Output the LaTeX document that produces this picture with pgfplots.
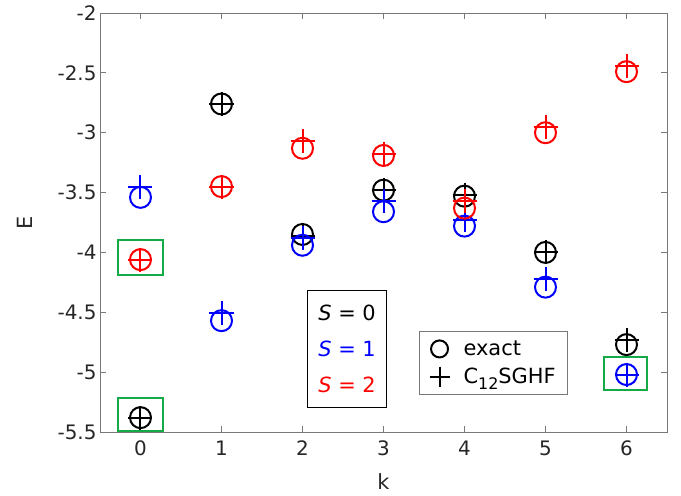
\documentclass[border=0pt]{standalone}
\usepackage{pgfplots}
\pgfplotsset{compat=1.18}
\usepackage{fontspec}
\setmainfont{DejaVu Sans}
\definecolor{boxgreen}{RGB}{20,170,70}
\definecolor{axgray}{RGB}{120,120,120}
\begin{document}
\begin{tikzpicture}
\useasboundingbox (-100bp,-64bp) rectangle (581bp,432bp);
\begin{axis}[
  scale only axis, width=567bp, height=419bp,
  xmin=-0.5, xmax=6.5, ymin=-5.5, ymax=-2,
  xtick={0,1,2,3,4,5,6}, ytick={-5.5,-5,-4.5,-4,-3.5,-3,-2.5,-2},
  yticklabels={-5.5,-5,-4.5,-4,-3.5,-3,-2.5,-2},
  xticklabels={0,1,2,3,4,5,6},
  tick align=inside, tick style={axgray, line width=0.8bp}, major tick length=6bp,
  axis line style={axgray, line width=0.8bp},
  ticklabel style={font=\fontsize{20}{24}\selectfont, text=black!85},
  xticklabel style={yshift=-5bp},
  /pgf/number format/assume math mode=true,
  xlabel={k}, ylabel={E},
  label style={font=\fontsize{21}{24}\selectfont, text=black!85},
  xlabel style={at={(axis description cs:0.5,-0.119)}, anchor=center},
  ylabel style={at={(axis description cs:-0.132,0.5)}, anchor=center},
  clip=false,
  legend style={at={(axis cs:3.44,-4.66)}, anchor=north west, draw=axgray, line width=0.8bp,
    font=\fontsize{21}{24}\selectfont, row sep=7bp, inner xsep=10bp, inner ysep=7bp,
    /tikz/every odd column/.append style={column sep=12bp}},
  legend cell align=left,
]
% black S=0
\addplot[only marks, mark=o, black, line width=2bp, mark size=10.5bp, forget plot] coordinates {(0,-5.38)(1,-2.76)(2,-3.85)(3,-3.48)(4,-3.53)(5,-4.00)(6,-4.77)};
\addplot[only marks, mark=+, black, line width=2bp, mark size=12bp, forget plot] coordinates {(0,-5.38)(1,-2.76)(2,-3.86)(3,-3.48)(4,-3.52)(5,-4.00)(6,-4.73)};
% blue S=1
\addplot[only marks, mark=o, blue, line width=2bp, mark size=10.5bp, forget plot] coordinates {(0,-3.54)(1,-4.57)(2,-3.94)(3,-3.66)(4,-3.78)(5,-4.29)(6,-5.02)};
\addplot[only marks, mark=+, blue, line width=2bp, mark size=12bp, forget plot] coordinates {(0,-3.45)(1,-4.51)(2,-3.88)(3,-3.57)(4,-3.73)(5,-4.22)(6,-5.02)};
% red S=2
\addplot[only marks, mark=o, red, line width=2bp, mark size=10.5bp, forget plot] coordinates {(0,-4.06)(1,-3.45)(2,-3.13)(3,-3.19)(4,-3.63)(5,-3.00)(6,-2.49)};
\addplot[only marks, mark=+, red, line width=2bp, mark size=12bp, forget plot] coordinates {(0,-4.06)(1,-3.45)(2,-3.07)(3,-3.18)(4,-3.57)(5,-2.95)(6,-2.44)};
% legend
\addlegendimage{only marks, mark=o, black, line width=2bp, mark size=8.5bp}
\addlegendentry{exact}
\addlegendimage{only marks, mark=+, black, line width=2bp, mark size=10bp}
\addlegendentry{C\raisebox{-6bp}{\fontsize{16}{16}\selectfont 12}SGHF}
% green boxes
\draw[boxgreen, line width=2bp] (axis cs:-0.275,-3.90) rectangle (axis cs:0.275,-4.185);
\draw[boxgreen, line width=2bp] (axis cs:-0.275,-5.22) rectangle (axis cs:0.275,-5.495);
\draw[boxgreen, line width=2bp] (axis cs:5.72,-4.87) rectangle (axis cs:6.25,-5.15);
% S legend
\node[draw=black, line width=1bp, minimum width=79bp, minimum height=117bp, align=center,
  font=\fontsize{21}{36}\selectfont] at (axis cs:2.55,-4.805)
  {\textit{S} = 0\\ \textcolor{blue}{\textit{S} = 1}\\ \textcolor{red}{\textit{S} = 2}};
\end{axis}
\end{tikzpicture}
\end{document}
